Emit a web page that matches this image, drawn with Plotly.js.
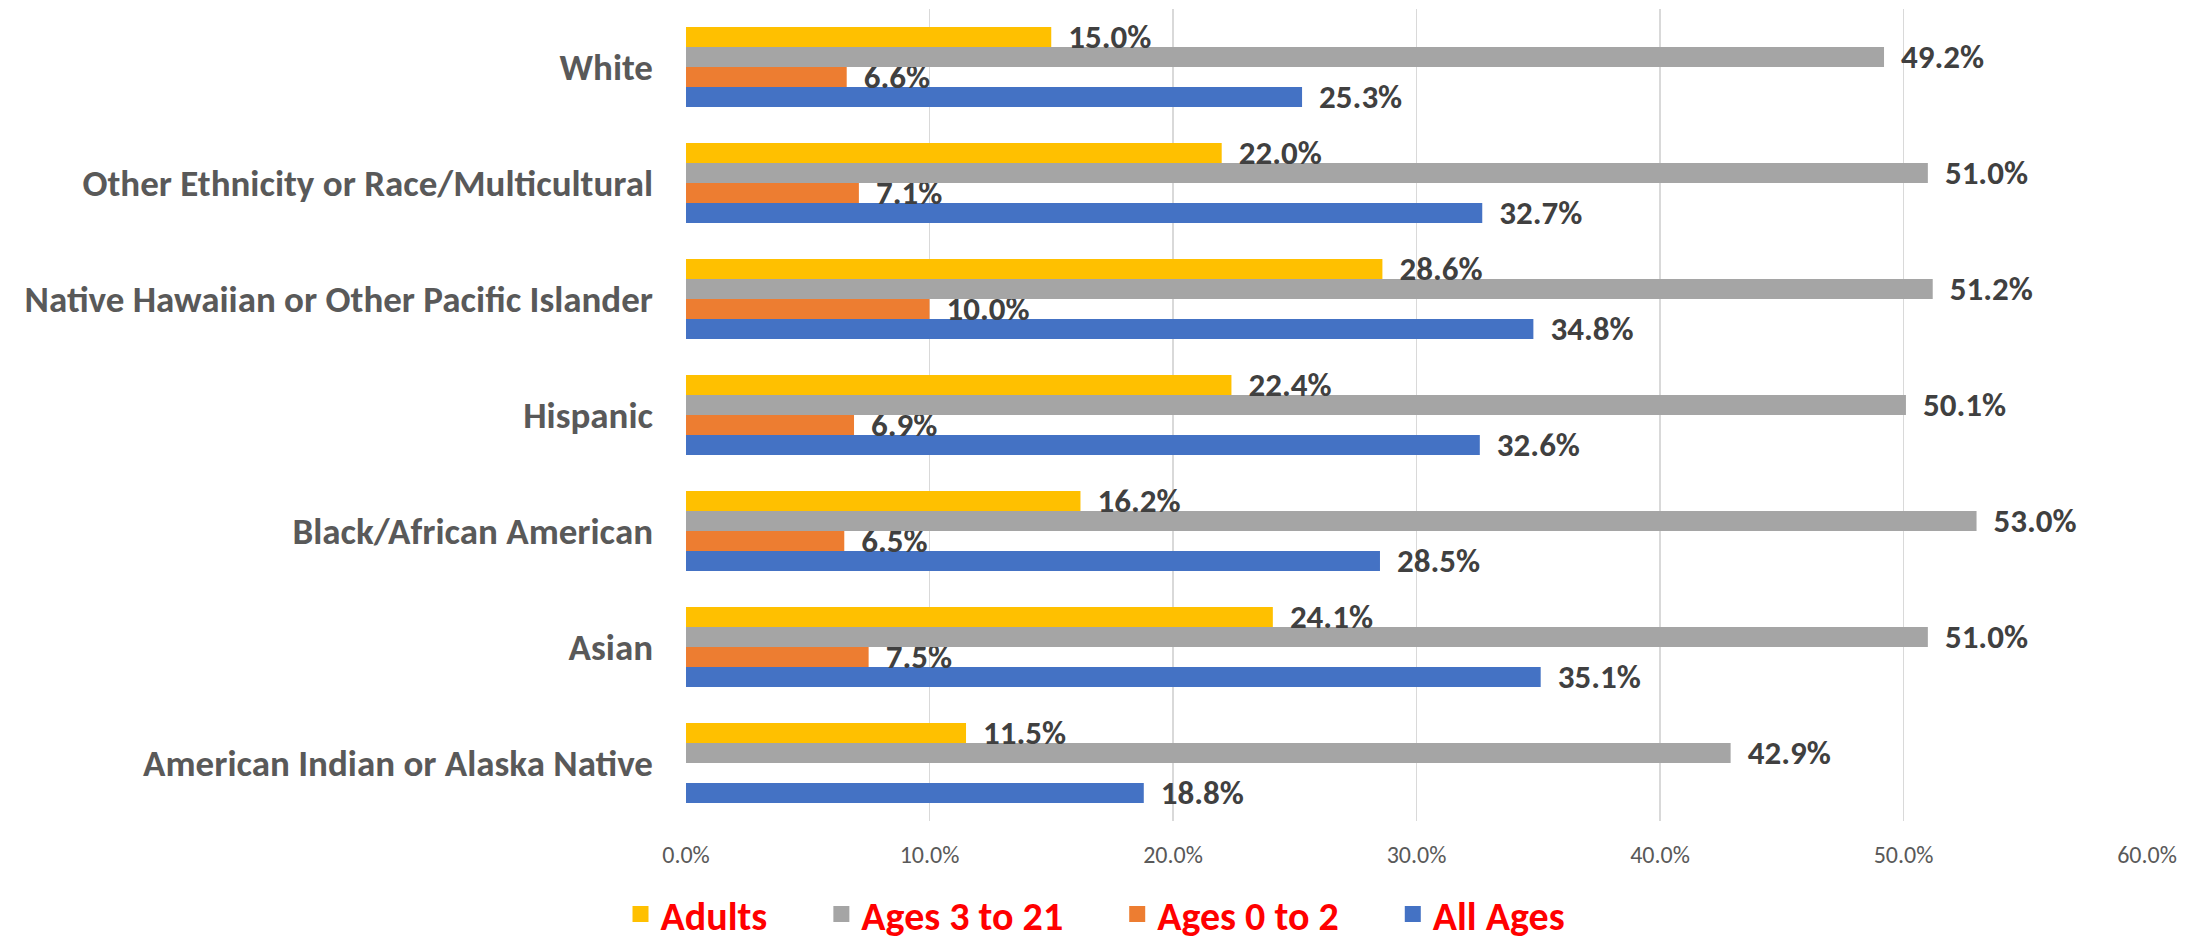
<!DOCTYPE html>
<html>
<head>
<meta charset="utf-8">
<script src="https://cdn.plot.ly/plotly-3.0.1.min.js"></script>
<style>html,body{margin:0;padding:0;background:#fff;}#chart{width:2203px;height:940px;}</style>
</head>
<body>
<div id="chart"></div>
<script>
const categories = [
  "American Indian or Alaska Native",
  "Asian",
  "Black/African American",
  "Hispanic",
  "Native Hawaiian or Other Pacific Islander",
  "Other Ethnicity or Race/Multicultural",
  "White"
];
const allAges   = [18.8, 35.1, 28.5, 32.6, 34.8, 32.7, 25.3];
const ages0to2  = [null, 7.5, 6.5, 6.9, 10.0, 7.1, 6.6];
const ages3to21 = [42.9, 51.0, 53.0, 50.1, 51.2, 51.0, 49.2];
const adults    = [11.5, 24.1, 16.2, 22.4, 28.6, 22.0, 15.0];
const xTicks    = [0, 10, 20, 30, 40, 50, 60];

const FONT = "Carlito, 'Liberation Sans Narrow', 'Arial Narrow', 'Liberation Sans', sans-serif";

function series(name, vals, color) {
  return {
    type: 'bar', orientation: 'h', name: name,
    y: categories, x: vals,
    marker: {color: color},
    texttemplate: '\u00a0\u2009%{x:.1f}%',
    textposition: 'outside',
    cliponaxis: false,
    constraintext: 'none',
    textfont: {family: FONT, size: 33, color: '#404040', weight: 'bold'},
    hoverinfo: 'x+y',
    showlegend: false
  };
}

function legendItem(name, color) {
  return {
    type: 'scatter', mode: 'markers', name: name + '\u2002\u2002\u00a0',
    x: [null], y: [null],
    marker: {symbol: 'square', size: 23, color: color},
    showlegend: true, hoverinfo: 'skip'
  };
}

const data = [
  series('All Ages', allAges, '#4472C4'),
  series('Ages 0 to 2', ages0to2, '#ED7D31'),
  series('Ages 3 to 21', ages3to21, '#A5A5A5'),
  series('Adults', adults, '#FFC000'),
  legendItem('Adults', '#FFC000'),
  legendItem('Ages 3 to 21', '#A5A5A5'),
  legendItem('Ages 0 to 2', '#ED7D31'),
  legendItem('All Ages', '#4472C4')
];

const layout = {
  width: 2203, height: 940,
  margin: {l: 686, r: 56, t: 9, b: 119},
  barmode: 'group',
  bargap: 0.31,
  bargroupgap: 0,
  paper_bgcolor: '#ffffff',
  plot_bgcolor: '#ffffff',
  font: {family: FONT},
  xaxis: {
    range: [0, 60],
    tickvals: xTicks,
    ticktext: xTicks.map(v => v.toFixed(1) + '%'),
    showgrid: true, gridcolor: '#D9D9D9', gridwidth: 1.5,
    zeroline: false, showline: false, ticks: '',
    tickfont: {family: FONT, size: 24, color: '#595959'},
    ticklabelstandoff: 17
  },
  yaxis: {
    type: 'category',
    categoryorder: 'array', categoryarray: categories,
    showgrid: false, zeroline: false, showline: false, ticks: '',
    tickfont: {family: FONT, size: 37, color: '#595959', weight: 'bold'},
    ticklabelstandoff: 32
  },
  showlegend: true,
  legend: {
    orientation: 'h', traceorder: 'normal',
    xref: 'container', yref: 'container',
    x: 0.5084, xanchor: 'center', y: 0.0277, yanchor: 'middle',
    font: {family: FONT, size: 40, color: '#FF0000', weight: 'bold'},
    itemsizing: 'trace',
    itemwidth: 30
  }
};

Plotly.newPlot('chart', data, layout, {displayModeBar: false, staticPlot: true});
</script>
</body>
</html>
